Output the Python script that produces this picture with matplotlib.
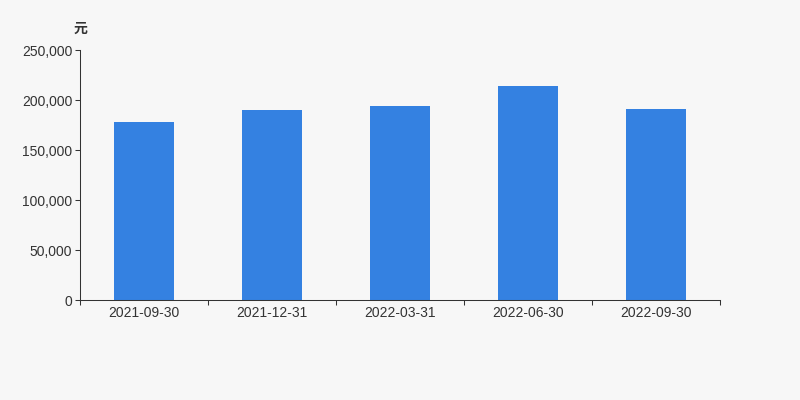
# -*- coding: utf-8 -*-
"""
Bar chart of quarterly values (元).
"""

import matplotlib.pyplot as plt
from matplotlib.ticker import FuncFormatter, MultipleLocator

# data
dates = ['2021-09-30', '2021-12-31', '2022-03-31', '2022-06-30', '2022-09-30']
values = [177700, 189700, 193700, 214000, 190700]
y_ticks = [0, 50000, 100000, 150000, 200000, 250000]

bg = '#f7f7f7'
bar_color = '#3481e1'
text_color = '#333333'

fig = plt.figure(figsize=(8, 4), dpi=100, facecolor=bg)
ax = fig.add_axes((0.1, 0.25, 0.8, 0.625))
ax.set_facecolor(bg)

x = list(range(len(dates)))
ax.bar(x, values, width=0.47, color=bar_color, zorder=2)

ax.set_xlim(-0.5, len(dates) - 0.5)
ax.set_ylim(y_ticks[0], y_ticks[-1])
ax.set_yticks(y_ticks)
ax.yaxis.set_major_formatter(FuncFormatter(lambda v, p: '{:,.0f}'.format(v)))

# category labels centred, tick marks on the boundaries
ax.set_xticks(x)
ax.set_xticklabels(dates)
ax.xaxis.set_minor_locator(MultipleLocator(1, offset=0.5))
ax.tick_params(axis='x', which='major', length=0, pad=4)
ax.tick_params(axis='x', which='minor', length=3.6, width=0.75,
               color=text_color)
ax.tick_params(axis='y', length=3.6, width=0.75, color=text_color, pad=2)
ax.tick_params(labelsize=10, labelcolor=text_color)
for lab in ax.get_xticklabels() + ax.get_yticklabels():
    lab.set_family(['Liberation Sans', 'DejaVu Sans'])

for side in ('top', 'right'):
    ax.spines[side].set_visible(False)
for side in ('left', 'bottom'):
    ax.spines[side].set_color(text_color)
    ax.spines[side].set_linewidth(0.75)

fig.text(0.1, 0.928, '元', ha='center', va='center', fontsize=10,
         fontweight='bold', color=text_color,
         family=['Noto Sans CJK SC', 'DejaVu Sans'])

fig.savefig('out.png', dpi=100, facecolor=bg)
